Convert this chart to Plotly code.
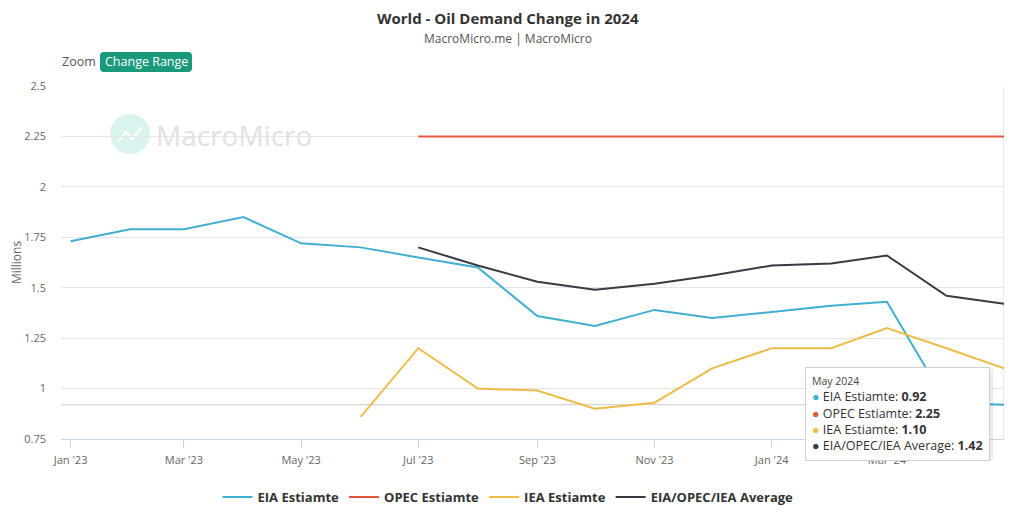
import plotly.graph_objects as go

months = ["2023-01-01", "2023-02-01", "2023-03-01", "2023-04-01", "2023-05-01", "2023-06-01",
          "2023-07-01", "2023-08-01", "2023-09-01", "2023-10-01", "2023-11-01", "2023-12-01",
          "2024-01-01", "2024-02-01", "2024-03-01", "2024-04-01", "2024-05-01"]
eia = [1.73, 1.79, 1.79, 1.85, 1.72, 1.70, 1.65, 1.60, 1.36, 1.31, 1.39, 1.35,
       1.38, 1.41, 1.43, 0.93, 0.92]
opec = [None, None, None, None, None, None, 2.25, 2.25, 2.25, 2.25, 2.25, 2.25,
        2.25, 2.25, 2.25, 2.25, 2.25]
iea = [None, None, None, None, None, 0.86, 1.20, 1.00, 0.99, 0.90, 0.93, 1.10,
       1.20, 1.20, 1.30, 1.20, 1.10]
avg = [None, None, None, None, None, None, 1.70, 1.61, 1.53, 1.49, 1.52, 1.56,
       1.61, 1.62, 1.66, 1.46, 1.42]

x_tickvals = ["2023-01-01", "2023-03-01", "2023-05-01", "2023-07-01", "2023-09-01",
              "2023-11-01", "2024-01-01", "2024-03-01", "2024-05-01"]
x_ticktext = ["Jan '23", "Mar '23", "May '23", "Jul '23", "Sep '23", "Nov '23",
              "Jan '24", "Mar '24", "May '24"]
y_tickvals = [0.75, 1.0, 1.25, 1.5, 1.75, 2.0, 2.25, 2.5]
y_ticktext = ["0.75", "1", "1.25", "1.5", "1.75", "2", "2.25", "2.5"]

names = ["EIA Estiamte", "OPEC Estiamte", "IEA Estiamte", "EIA/OPEC/IEA Average"]
colors = ["#41afd1", "#e0573c", "#eebc48", "#383a45"]
series = [eia, opec, iea, avg]

hover_label = "May 2024"
hover_vals = ["0.92", "2.25", "1.10", "1.42"]

FONT = "Open Sans, Noto Sans, sans-serif"

fig = go.Figure()
for name, col, ys in zip(names, colors, series):
    fig.add_trace(go.Scatter(x=months, y=ys, name=f"<b>{name}</b>", mode="lines",
                             line=dict(color=col, width=2), connectgaps=False))

# page body adds an 8px offset; positions below are given in screen pixels
OFF = 8
W, H = 1012 - OFF, 514 - OFF
L, R, T, B = 53, 6, 78, 75
pw, ph = W - L - R, H - T - B


def px(xs):
    return (xs - OFF - L) / pw


def py(ys):
    return (H - B - (ys - OFF)) / ph


# crosshairs
fig.add_shape(type="line", xref="paper", yref="y", x0=0, x1=1, y0=0.92, y1=0.92,
              line=dict(color="#cccccc", width=1), layer="below")
fig.add_shape(type="line", xref="x", yref="paper", x0=months[-1], x1=months[-1], y0=0, y1=1,
              line=dict(color="#cccccc", width=1), layer="below")

# watermark
fig.add_shape(type="circle", xref="paper", yref="paper",
              x0=px(110), x1=px(150), y0=py(154), y1=py(114),
              fillcolor="#d9f4ef", line=dict(width=0), layer="below")
fig.add_shape(type="path", xref="paper", yref="paper",
              path=(f"M {px(118)},{py(142)} L {px(126)},{py(132)} L {px(132)},{py(139)} "
                    f"L {px(142)},{py(127)}"),
              line=dict(color="#ffffff", width=2.5), layer="below")
fig.add_annotation(xref="paper", yref="paper", x=px(154), y=py(135), xanchor="left",
                   yanchor="middle", showarrow=False, text="MacroMicro",
                   font=dict(size=28, color="#e2e2e2", family=FONT))

# title & subtitle
fig.add_annotation(xref="paper", yref="paper", x=px(508), y=py(18), xanchor="center",
                   yanchor="middle", showarrow=False,
                   text="<b>World - Oil Demand Change in 2024</b>",
                   font=dict(size=15, color="#333333", family=FONT))
fig.add_annotation(xref="paper", yref="paper", x=px(508), y=py(38.5), xanchor="center",
                   yanchor="middle", showarrow=False, text="MacroMicro.me | MacroMicro",
                   font=dict(size=12, color="#555555", family=FONT))

# zoom controls
fig.add_annotation(xref="paper", yref="paper", x=px(60), y=py(62), xanchor="left",
                   yanchor="middle", showarrow=False, text="Zoom",
                   font=dict(size=12.5, color="#555555", family=FONT))
bx0, bx1, by0, by1, r = 100, 192, 52, 72, 4
fig.add_shape(type="path", xref="paper", yref="paper",
              path=(f"M {px(bx0 + r)},{py(by0)} L {px(bx1 - r)},{py(by0)} "
                    f"Q {px(bx1)},{py(by0)} {px(bx1)},{py(by0 + r)} "
                    f"L {px(bx1)},{py(by1 - r)} Q {px(bx1)},{py(by1)} {px(bx1 - r)},{py(by1)} "
                    f"L {px(bx0 + r)},{py(by1)} Q {px(bx0)},{py(by1)} {px(bx0)},{py(by1 - r)} "
                    f"L {px(bx0)},{py(by0 + r)} Q {px(bx0)},{py(by0)} {px(bx0 + r)},{py(by0)} Z"),
              fillcolor="#1a9a7b", line=dict(width=0), layer="above")
fig.add_annotation(xref="paper", yref="paper", x=px(146), y=py(62), xanchor="center",
                   yanchor="middle", showarrow=False, text="Change Range",
                   font=dict(size=12.5, color="#ffffff", family=FONT))

# tooltip shadow
fig.add_shape(type="rect", xref="paper", yref="paper",
              x0=px(807), x1=px(993), y0=py(460), y1=py(369),
              fillcolor="rgba(0,0,0,0.08)", line=dict(width=0), layer="above")
tip = [f"<span style='font-size:10.5px;color:#444'>{hover_label}</span>"]
for name, col, v in zip(names, colors, hover_vals):
    tip.append(f"<span style='color:{col}'>●</span> {name}: <b>{v}</b>")
fig.add_annotation(xref="paper", yref="paper", x=px(805), y=py(367), xanchor="left",
                   yanchor="top", showarrow=False, align="left",
                   text="<br>".join(tip),
                   font=dict(size=12.5, color="#333333", family=FONT),
                   bgcolor="#ffffff", bordercolor="#d0d0d0", borderwidth=1, borderpad=6)

fig.update_layout(
    width=W, height=H,
    margin=dict(l=L, r=R, t=T, b=B, autoexpand=False),
    paper_bgcolor="#ffffff", plot_bgcolor="#ffffff",
    font=dict(family=FONT, color="#666666"),
    showlegend=True,
    legend=dict(orientation="h", xref="container", yref="container",
                x=(508 - OFF) / W, xanchor="center", y=1 - (497 - OFF) / H, yanchor="middle",
                font=dict(size=13, color="#333333", family=FONT),
                itemwidth=30, traceorder="normal"),
    hovermode=False,
)

fig.update_xaxes(type="date", range=["2022-12-27", "2024-05-02"],
                 tickvals=x_tickvals, ticktext=x_ticktext, automargin=False,
                 showgrid=False, showline=True, linecolor="#ccd6eb", linewidth=1,
                 ticks="outside", ticklen=8, tickcolor="#ccd6eb",
                 ticklabelstandoff=3,
                 tickfont=dict(size=11, color="#666666"))
fig.update_yaxes(range=[0.75, 2.5], tickvals=y_tickvals, ticktext=y_ticktext,
                 automargin=False,
                 showgrid=True, gridcolor="#e6e6e6", zeroline=False,
                 ticks="", ticklabelstandoff=14, tickfont=dict(size=11, color="#666666"),
                 title=dict(text="Millions", font=dict(size=12, color="#666666"), standoff=8))

fig.write_html("out.html")
